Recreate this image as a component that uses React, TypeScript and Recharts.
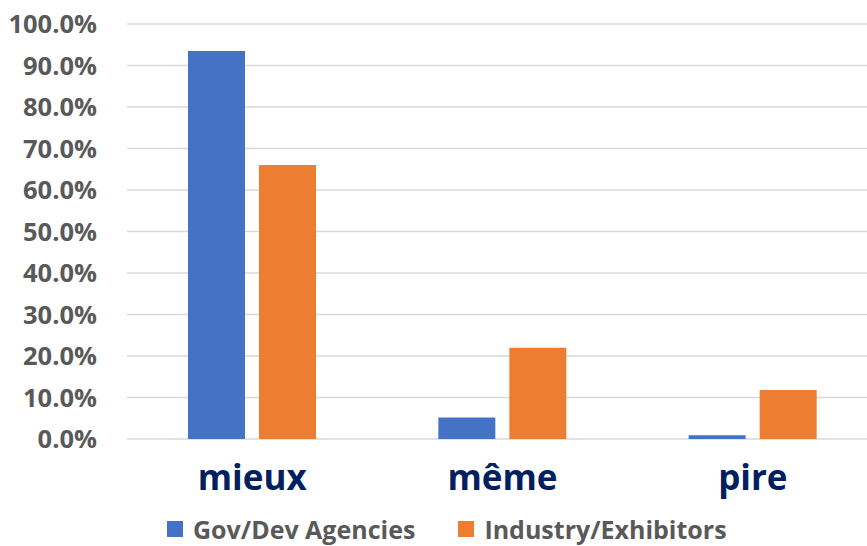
import { BarChart, Bar, XAxis, YAxis, CartesianGrid, Legend } from 'recharts';

// Values (percent)
const categories = ['mieux', 'même', 'pire'];
const govDevAgencies = [93.5, 5.2, 0.9];
const industryExhibitors = [66.0, 22.0, 11.8];
const yTicks = [0, 10, 20, 30, 40, 50, 60, 70, 80, 90, 100];

const SERIES = [
  { key: 'gov', name: 'Gov/Dev Agencies', color: '#4472C4' },
  { key: 'ind', name: 'Industry/Exhibitors', color: '#ED7D31' },
];

const data = categories.map((name, i) => ({
  name,
  gov: govDevAgencies[i],
  ind: industryExhibitors[i],
}));

const FONT = '"Open Sans", sans-serif';

const CategoryTick = ({ x, y, payload }: any) => (
  <text
    x={x}
    y={y + 51}
    textAnchor="middle"
    fill="#002060"
    fontFamily={FONT}
    fontWeight={700}
    fontSize={35}
  >
    {payload.value}
  </text>
);

const LegendContent = () => (
  <div style={{ display: 'flex', alignItems: 'center', paddingLeft: 167, fontFamily: FONT, height: 34 }}>
    {SERIES.map((s, i) => (
      <div
        key={s.key}
        style={{ display: 'flex', alignItems: 'center', marginRight: i === 0 ? 43 : 0 }}
      >
        <span style={{ width: 16, height: 16, background: s.color, display: 'inline-block', marginRight: 10 }} />
        <span style={{ fontSize: 25, fontWeight: 700, color: '#595959', lineHeight: '34px' }}>{s.name}</span>
      </div>
    ))}
  </div>
);

export default function App() {
  return (
    <div style={{ position: 'absolute', left: 0, top: 0, width: 867, height: 546, overflow: 'hidden', background: '#fff' }}>
      <BarChart
        width={880}
        height={546}
        data={data}
        margin={{ top: 24, right: 2, left: 0, bottom: 0 }}
        barSize={57}
        barGap={14}
      >
        <CartesianGrid vertical={false} stroke="#d9d9d9" strokeWidth={1.5} />
        <XAxis
          dataKey="name"
          axisLine={false}
          tickLine={false}
          tickSize={0}
          tickMargin={0}
          height={73}
          tick={<CategoryTick />}
          interval={0}
        />
        <YAxis
          domain={[0, 100]}
          ticks={yTicks}
          width={127}
          axisLine={false}
          tickLine={false}
          tickSize={0}
          tickMargin={30}
          tickFormatter={(v) => `${v.toFixed(1)}%`}
          tick={{ fill: '#595959', fontFamily: FONT, fontWeight: 700, fontSize: 25.5 }}
        />
        <Legend verticalAlign="bottom" height={34} content={<LegendContent />} />
        {SERIES.map((s) => (
          <Bar key={s.key} dataKey={s.key} name={s.name} fill={s.color} isAnimationActive={false} />
        ))}
      </BarChart>
    </div>
  );
}
